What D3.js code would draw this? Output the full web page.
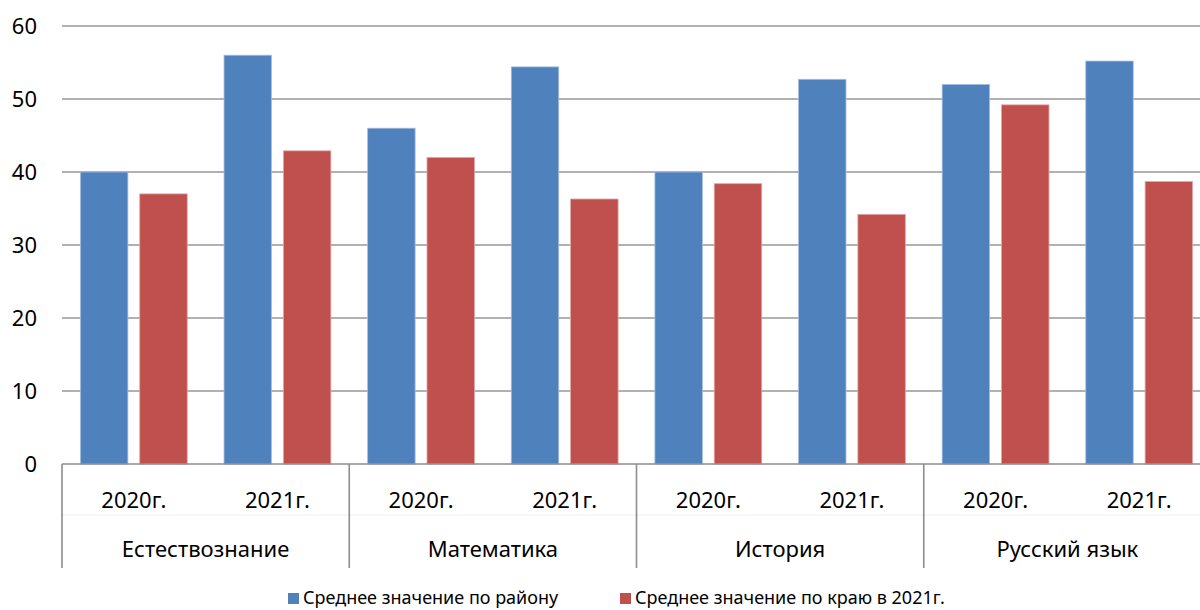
<!DOCTYPE html>
<html>
<head>
<meta charset="utf-8">
<script src="https://cdn.jsdelivr.net/npm/d3@7"></script>
<style>
  body { margin: 0; background: #fff; }
  svg text { font-family: "Noto Sans", "Open Sans", sans-serif; fill: #000; }
</style>
</head>
<body>
<svg id="chart"></svg>
<script>
// chart data
const subjects = ['Естествознание', 'Математика', 'История', 'Русский язык'];
const years = ['2020г.', '2021г.'];
const seriesNames = ['Среднее значение по району', 'Среднее значение по краю в 2021г.'];
const district = [40, 56, 46, 54.4, 40, 52.7, 52, 55.2];
const region = [37, 42.9, 42, 36.3, 38.4, 34.2, 49.2, 38.7];
const yTicks = [0, 10, 20, 30, 40, 50, 60];

const colors = ['#4F81BD', '#C0504D'];
const strokes = ['#a7bfdf', '#e0a8a6'];

const width = 1200, height = 610;
const plotLeft = 62, plotRight = 1211, plotTop = 26, plotBottom = 464;

const svg = d3.select('#chart')
    .attr('width', width)
    .attr('height', height);

// build rows: one per subject/year pair
const rows = [];
subjects.forEach((s, i) => {
    years.forEach((yr, j) => {
        const k = i * years.length + j;
        rows.push({ key: s + '|' + yr, subject: s, year: yr, values: [district[k], region[k]] });
    });
});

const x0 = d3.scaleBand()
    .domain(rows.map(d => d.key))
    .range([plotLeft, plotRight]);

const x1 = d3.scaleBand()
    .domain([0, 1])
    .range([0, x0.bandwidth()])
    .paddingInner(0.2)
    .paddingOuter(0.31);

const y = d3.scaleLinear()
    .domain([0, 60])
    .range([plotBottom, plotTop]);

// gridlines
svg.append('g')
    .selectAll('line')
    .data(yTicks.filter(t => t > 0))
    .enter()
    .append('line')
    .attr('x1', plotLeft)
    .attr('x2', width)
    .attr('y1', d => y(d))
    .attr('y2', d => y(d))
    .attr('stroke', '#979797')
    .attr('stroke-width', 1.6);

// y labels
svg.append('g')
    .selectAll('text')
    .data(yTicks)
    .enter()
    .append('text')
    .attr('x', 37)
    .attr('y', d => y(d))
    .attr('dy', '0.36em')
    .attr('text-anchor', 'end')
    .style('font-size', '22px')
    .text(d => d);

// bars
const groups = svg.append('g')
    .selectAll('g')
    .data(rows)
    .enter()
    .append('g')
    .attr('transform', d => `translate(${x0(d.key)},0)`);

groups.selectAll('rect')
    .data(d => d.values.map((v, i) => ({ v, i })))
    .enter()
    .append('rect')
    .attr('x', d => x1(d.i))
    .attr('y', d => y(d.v))
    .attr('width', x1.bandwidth())
    .attr('height', d => plotBottom - y(d.v))
    .attr('fill', d => colors[d.i])
    .attr('stroke', d => strokes[d.i])
    .attr('stroke-width', 0.8);

// category axis
const axis = svg.append('g');

// faint divider between the two label rows
axis.append('line')
    .attr('x1', plotLeft).attr('x2', width)
    .attr('y1', 515).attr('y2', 515)
    .attr('stroke', '#ededed')
    .attr('stroke-width', 1);

axis.append('line')
    .attr('x1', plotLeft).attr('x2', width)
    .attr('y1', plotBottom).attr('y2', plotBottom)
    .attr('stroke', '#8c8c8c')
    .attr('stroke-width', 1.6);

const groupEdges = subjects.map(s => x0(s + '|' + years[0]));
axis.selectAll('line.sep')
    .data(groupEdges)
    .enter()
    .append('line')
    .attr('class', 'sep')
    .attr('x1', d => d).attr('x2', d => d)
    .attr('y1', plotBottom).attr('y2', 568)
    .attr('stroke', '#8c8c8c')
    .attr('stroke-width', 1.6);

axis.selectAll('text.year')
    .data(rows)
    .enter()
    .append('text')
    .attr('class', 'year')
    .attr('x', d => x0(d.key) + x0.bandwidth() / 2)
    .attr('y', 508)
    .attr('text-anchor', 'middle')
    .style('font-size', '22px')
    .text(d => d.year);

axis.selectAll('text.subj')
    .data(subjects)
    .enter()
    .append('text')
    .attr('class', 'subj')
    .attr('x', s => x0(s + '|' + years[0]) + x0.bandwidth())
    .attr('y', 557)
    .attr('text-anchor', 'middle')
    .style('font-size', '22px')
    .text(s => s);

// legend
const legendX = [288, 620];
const legend = svg.append('g')
    .selectAll('g')
    .data(seriesNames)
    .enter()
    .append('g')
    .attr('transform', (d, i) => `translate(${legendX[i]},593)`);

legend.append('rect')
    .attr('width', 11)
    .attr('height', 11)
    .attr('fill', (d, i) => colors[i]);

legend.append('text')
    .attr('x', 15)
    .attr('y', 11)
    .style('font-size', '18px')
    .text(d => d);
</script>
</body>
</html>
